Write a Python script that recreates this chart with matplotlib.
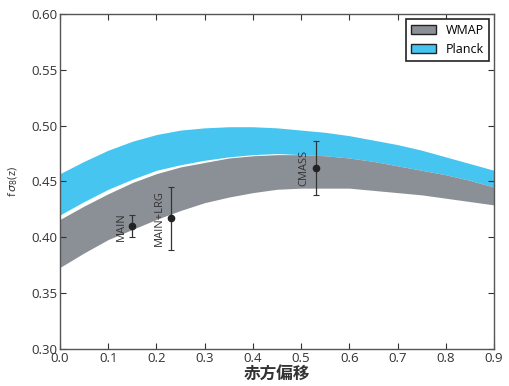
import matplotlib
matplotlib.use('Agg')
import matplotlib.pyplot as plt
from matplotlib.patches import Patch

plt.rcParams['font.family'] = ['Open Sans', 'DejaVu Sans']

z = [0.00, 0.05, 0.10, 0.15, 0.20, 0.25, 0.30, 0.35, 0.40, 0.45,
     0.50, 0.55, 0.60, 0.65, 0.70, 0.75, 0.80, 0.85, 0.90]

planck_hi = [0.457, 0.468, 0.478, 0.486, 0.492, 0.496, 0.498, 0.499, 0.499, 0.498,
             0.496, 0.494, 0.491, 0.487, 0.483, 0.478, 0.472, 0.466, 0.460]
planck_lo = [0.420, 0.432, 0.443, 0.452, 0.460, 0.465, 0.469, 0.472, 0.474, 0.475,
             0.474, 0.473, 0.471, 0.468, 0.464, 0.460, 0.456, 0.451, 0.445]
wmap_hi = [0.416, 0.428, 0.439, 0.449, 0.457, 0.463, 0.467, 0.471, 0.473, 0.474,
           0.474, 0.473, 0.471, 0.468, 0.464, 0.460, 0.456, 0.451, 0.445]
wmap_lo = [0.373, 0.386, 0.398, 0.407, 0.416, 0.424, 0.431, 0.436, 0.440, 0.443,
           0.444, 0.444, 0.444, 0.442, 0.440, 0.438, 0.435, 0.432, 0.429]

# measurements
names = ['MAIN', 'MAIN+LRG', 'CMASS']
pz = [0.15, 0.23, 0.53]
pf = [0.410, 0.417, 0.462]
err_lo = [0.010, 0.028, 0.024]
err_hi = [0.010, 0.028, 0.024]

fig = plt.figure(figsize=(5.1, 3.86), dpi=100)
ax = fig.add_axes([0.1176, 0.0959, 0.851, 0.868])

gray = '#8b9096'
cyan = '#45c5ef'
ax.fill_between(z, planck_lo, planck_hi, color=cyan, lw=0)
ax.fill_between(z, wmap_lo, wmap_hi, color=gray, lw=0)

ax.errorbar(pz, pf, yerr=[err_lo, err_hi], fmt='o', color='#222222', ms=4.5,
            ecolor='#333333', elinewidth=0.9, capsize=2.5, capthick=0.8)
for n, x, y in zip(names, pz, pf):
    ax.text(x - 0.012, y, n, rotation=90, ha='right', va='center',
            fontsize=8, color='#333333')

ax.set_xlim(0, 0.9)
ax.set_ylim(0.30, 0.60)
ax.set_xticks([0.0, 0.1, 0.2, 0.3, 0.4, 0.5, 0.6, 0.7, 0.8, 0.9])
ax.set_yticks([0.30, 0.35, 0.40, 0.45, 0.50, 0.55, 0.60])
ax.set_yticklabels(['0.30', '0.35', '0.40', '0.45', '0.50', '0.55', '0.60'])
ax.tick_params(direction='in', top=True, right=True, labelsize=9.5,
               colors='#333333', length=4, width=0.8, pad=2)
for s in ax.spines.values():
    s.set_color('#555555')
    s.set_linewidth(1.0)

ax.set_ylabel(r'f$\,\sigma_8$(z)', fontsize=8, color='#333333', labelpad=8)
ax.set_xlabel('赤方偏移', fontsize=12, fontweight='bold', color='#333333',
              family=['Noto Sans CJK JP', 'DejaVu Sans'], labelpad=0)

handles = [Patch(facecolor=gray, edgecolor='#222222', label='WMAP'),
           Patch(facecolor=cyan, edgecolor='#222222', label='Planck')]
leg = ax.legend(handles=handles, loc='upper right', fontsize=9, fancybox=False,
                framealpha=1, edgecolor='#222222', borderaxespad=0.4)
leg.get_frame().set_linewidth(1.2)

fig.savefig('out.png', dpi=100)
